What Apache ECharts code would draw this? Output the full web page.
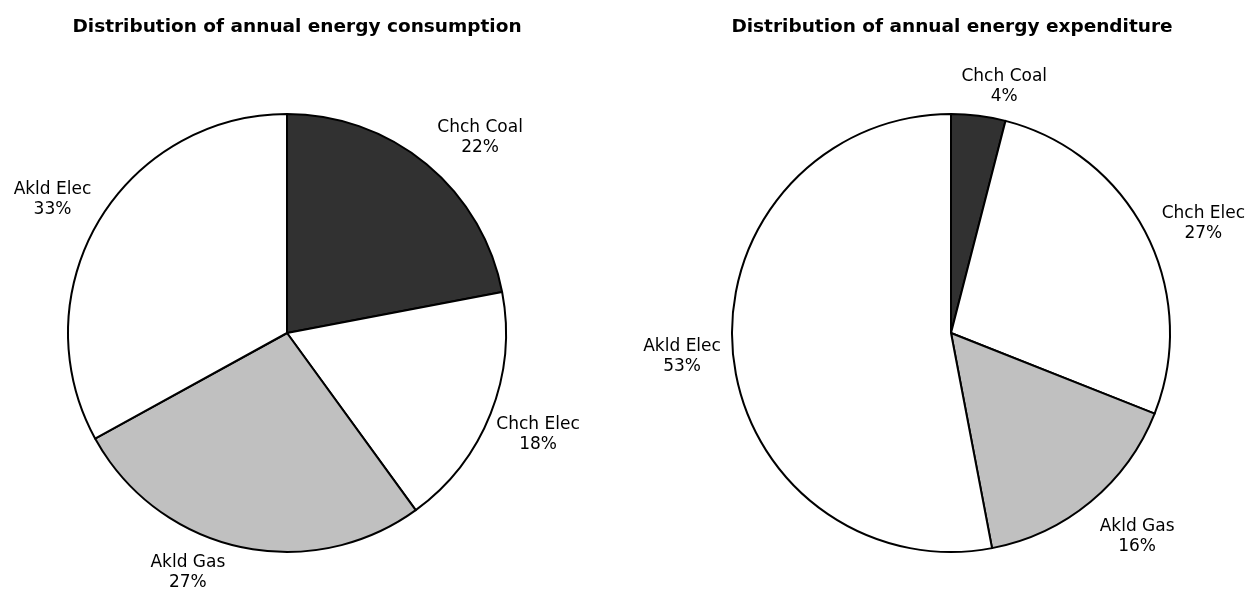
<!DOCTYPE html>
<html>
<head>
<meta charset="utf-8">
<script src="https://cdn.jsdelivr.net/npm/echarts@6/dist/echarts.min.js"></script>
<style>
  html, body { margin: 0; padding: 0; background: #ffffff; }
  #chart { width: 1246px; height: 592px; }
</style>
</head>
<body>
<div id="chart"></div>
<script>
// Slice names and shares (%) for each pie, clockwise from 12 o'clock
const consumptionNames = ['Chch Coal', 'Chch Elec', 'Akld Gas', 'Akld Elec'];
const consumptionValues = [22, 18, 27, 33];
const expenditureNames = ['Chch Coal', 'Chch Elec', 'Akld Gas', 'Akld Elec'];
const expenditureValues = [4, 27, 16, 53];
const titles = ['Distribution of annual energy consumption', 'Distribution of annual energy expenditure'];

// Fill by fuel type
const fuelColors = { 'Chch Coal': '#313131', 'Chch Elec': '#ffffff', 'Akld Gas': '#c0c0c0', 'Akld Elec': '#ffffff' };

// Pie geometry
const pieRadius = 219;
const pieCenters = [[287, 333], [951, 333]];

// Label placement: angular nudge (degrees) from slice middle and gap beyond the rim
const labelNudge = [[5.0, 0.5, 9.9, -0.9], [5.0, 3.6, -2.8, 0.3]];
const labelGap = [[56, 52, 40, 51], [33, 56, 57, 51]];

const seriesValues = [consumptionValues, expenditureValues];
const seriesNames = [consumptionNames, expenditureNames];

function labelPosition(si, di) {
  const vals = seriesValues[si];
  const total = vals.reduce((a, b) => a + b, 0);
  let before = 0;
  for (let i = 0; i < di; i++) before += vals[i];
  const mid = (before + vals[di] / 2) / total * 360 + labelNudge[si][di];
  const rad = mid * Math.PI / 180;
  const dist = pieRadius + labelGap[si][di];
  const c = pieCenters[si];
  return { x: c[0] + dist * Math.sin(rad), y: c[1] - dist * Math.cos(rad) };
}

const chart = echarts.init(document.getElementById('chart'), null, { renderer: 'canvas' });

const series = seriesValues.map((vals, si) => ({
  type: 'pie',
  center: pieCenters[si],
  radius: pieRadius,
  startAngle: 90,
  clockwise: true,
  avoidLabelOverlap: false,
  silent: true,
  animation: false,
  data: vals.map((v, i) => ({
    name: seriesNames[si][i],
    value: v,
    itemStyle: { color: fuelColors[seriesNames[si][i]] }
  })),
  itemStyle: { borderColor: '#000000', borderWidth: 2 },
  label: {
    show: true,
    position: 'outside',
    formatter: p => p.name + '\n' + Math.round(p.percent) + '%',
    fontFamily: 'DejaVu Sans',
    fontSize: 17,
    lineHeight: 20,
    color: '#000000'
  },
  labelLine: { show: false },
  labelLayout: params => {
    const pos = labelPosition(si, params.dataIndex);
    return { x: pos.x, y: pos.y, align: 'center', verticalAlign: 'middle' };
  },
  emphasis: { disabled: true }
}));

chart.setOption({
  backgroundColor: '#ffffff',
  animation: false,
  title: titles.map((t, i) => ({
    text: t,
    left: [292, 947][i],
    top: 13,
    textAlign: 'center',
    textStyle: { fontFamily: 'DejaVu Sans', fontWeight: 'bold', fontSize: 18.5, color: '#000000' }
  })),
  series: series
});
</script>
</body>
</html>
